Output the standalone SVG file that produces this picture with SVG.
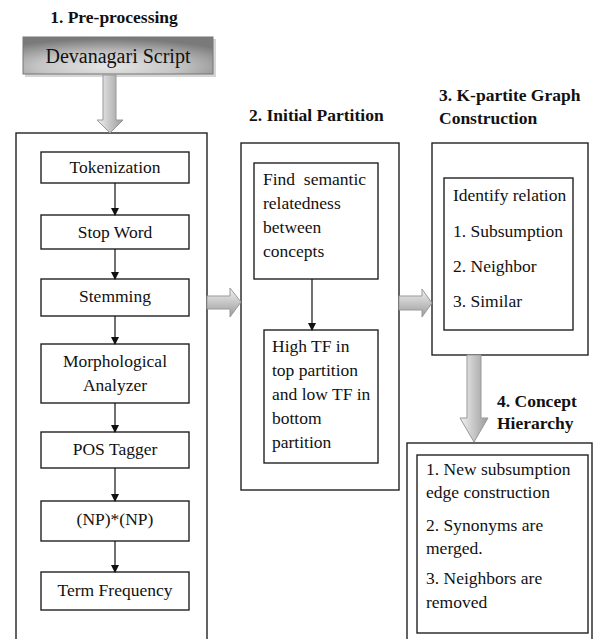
<svg xmlns="http://www.w3.org/2000/svg" width="597" height="639" viewBox="0 0 597 639">
<defs>
<style>
.t{font-family:"Liberation Serif","Times New Roman",serif;font-size:17.5px;fill:#111}
.h{font-family:"Liberation Serif","Times New Roman",serif;font-size:17.5px;font-weight:bold;fill:#111}
.c{text-anchor:middle}
.ob{fill:#fff;stroke:#222;stroke-width:1.4}
.ib{fill:#fff;stroke:#222;stroke-width:1.4}
.ln{stroke:#111;stroke-width:1.2;fill:none;marker-end:url(#ah)}
.ga{stroke:#999;stroke-width:1}
</style>
<marker id="ah" markerWidth="8" markerHeight="8" refX="7" refY="4" orient="auto" markerUnits="userSpaceOnUse">
<path d="M0,0 L8,4 L0,8 z" fill="#111"/>
</marker>
<radialGradient id="dg" cx="45%" cy="80%" r="75%">
<stop offset="0" stop-color="#e6e6e6"/>
<stop offset="0.5" stop-color="#c4c4c4"/>
<stop offset="1" stop-color="#7a7a7a"/>
</radialGradient>
<linearGradient id="vg" x1="0" y1="0" x2="1" y2="0">
<stop offset="0" stop-color="#f2f2f2"/>
<stop offset="1" stop-color="#9a9a9a"/>
</linearGradient>
<linearGradient id="hg" x1="0" y1="0" x2="0" y2="1">
<stop offset="0" stop-color="#f2f2f2"/>
<stop offset="1" stop-color="#9a9a9a"/>
</linearGradient>
</defs>
<rect width="597" height="639" fill="#fff"/>

<g id="titles" font-family="Liberation Serif, Times New Roman, serif">
<text class="h" x="114" y="23" text-anchor="middle">1. Pre-processing</text>
<text class="h" x="249" y="121">2. Initial Partition</text>
<text class="h" x="439" y="101">3. K-partite Graph</text>
<text class="h" x="439" y="124">Construction</text>
<text class="h" x="497" y="407">4. Concept</text>
<text class="h" x="497" y="429">Hierarchy</text>
</g>

<g id="devanagari" font-family="Liberation Serif, Times New Roman, serif">
<rect x="25" y="39" width="191" height="38" fill="#888" opacity="0.35"/>
<rect x="23" y="37" width="190" height="37" fill="url(#dg)" stroke="#777" stroke-width="1"/>
<text class="t c" x="118" y="63" style="font-size:20px">Devanagari Script</text>
</g>

<g id="preprocessing" font-family="Liberation Serif, Times New Roman, serif">
<rect class="ob" x="16" y="133" width="191" height="520"/>
<g id="tokenization"><rect class="ib" x="41" y="152" width="148" height="31"/><text class="t c" x="115" y="173">Tokenization</text></g>
<g id="stopword"><rect class="ib" x="41" y="215" width="148" height="34"/><text class="t c" x="115" y="238">Stop Word</text></g>
<g id="stemming"><rect class="ib" x="41" y="279" width="148" height="37"/><text class="t c" x="115" y="302">Stemming</text></g>
<g id="morph"><rect class="ib" x="41" y="344" width="148" height="59"/><text class="t c" x="115" y="367">Morphological</text><text class="t c" x="115" y="391">Analyzer</text></g>
<g id="pos"><rect class="ib" x="41" y="432" width="148" height="36"/><text class="t c" x="115" y="455">POS Tagger</text></g>
<g id="np"><rect class="ib" x="41" y="501" width="148" height="40"/><text class="t c" x="115" y="525">(NP)*(NP)</text></g>
<g id="tf"><rect class="ib" x="41" y="572" width="148" height="38"/><text class="t c" x="115" y="596">Term Frequency</text></g>
</g>

<g id="partition" font-family="Liberation Serif, Times New Roman, serif">
<rect class="ob" x="241" y="143" width="158" height="347"/>
<g id="semantic"><rect class="ib" x="254" y="163" width="124" height="116"/>
<text class="t" x="263" y="185" xml:space="preserve">Find  semantic</text>
<text class="t" x="263" y="209">relatedness</text>
<text class="t" x="263" y="233">between</text>
<text class="t" x="263" y="257">concepts</text></g>
<g id="hightf"><rect class="ib" x="264" y="330" width="114" height="133"/>
<text class="t" x="272" y="352">High TF in</text>
<text class="t" x="272" y="376">top partition</text>
<text class="t" x="272" y="400">and low TF in</text>
<text class="t" x="272" y="424">bottom</text>
<text class="t" x="272" y="448">partition</text></g>
</g>

<g id="kpartite" font-family="Liberation Serif, Times New Roman, serif">
<rect class="ob" x="432" y="143" width="156" height="212"/>
<g id="relation"><rect class="ib" x="444" y="178" width="129" height="152"/>
<text class="t" x="453" y="201">Identify relation</text>
<text class="t" x="453" y="237">1. Subsumption</text>
<text class="t" x="453" y="272">2. Neighbor</text>
<text class="t" x="453" y="307">3. Similar</text></g>
</g>

<g id="hierarchy" font-family="Liberation Serif, Times New Roman, serif">
<rect class="ob" x="407" y="443" width="185" height="220"/>
<g id="steps"><rect class="ib" x="417" y="455" width="171" height="178"/>
<text class="t" x="426" y="475">1. New subsumption</text>
<text class="t" x="426" y="498">edge construction</text>
<text class="t" x="426" y="531">2. Synonyms are</text>
<text class="t" x="426" y="554">merged.</text>
<text class="t" x="426" y="584">3. Neighbors are</text>
<text class="t" x="426" y="608">removed</text></g>
</g>

<g id="connectors">
<polygon class="ga" fill="url(#vg)" points="103,75 116,75 116,120 123,120 110,133 97,120 103,120"/>
<polygon class="ga" fill="url(#hg)" points="207,296 230,296 230,288 241,302 230,317 230,309 207,309"/>
<polygon class="ga" fill="url(#hg)" points="399,296 422,296 422,289 432,303 422,317 422,310 399,310"/>
<polygon class="ga" fill="url(#vg)" points="467,355 481,355 481,418 488,418 474,442 460,418 467,418"/>
<line class="ln" x1="115" y1="183" x2="115" y2="215"/>
<line class="ln" x1="115" y1="249" x2="115" y2="279"/>
<line class="ln" x1="115" y1="316" x2="115" y2="344"/>
<line class="ln" x1="115" y1="403" x2="115" y2="432"/>
<line class="ln" x1="115" y1="468" x2="115" y2="501"/>
<line class="ln" x1="115" y1="541" x2="115" y2="572"/>
<line class="ln" x1="312" y1="279" x2="312" y2="330"/>
</g>
</svg>
